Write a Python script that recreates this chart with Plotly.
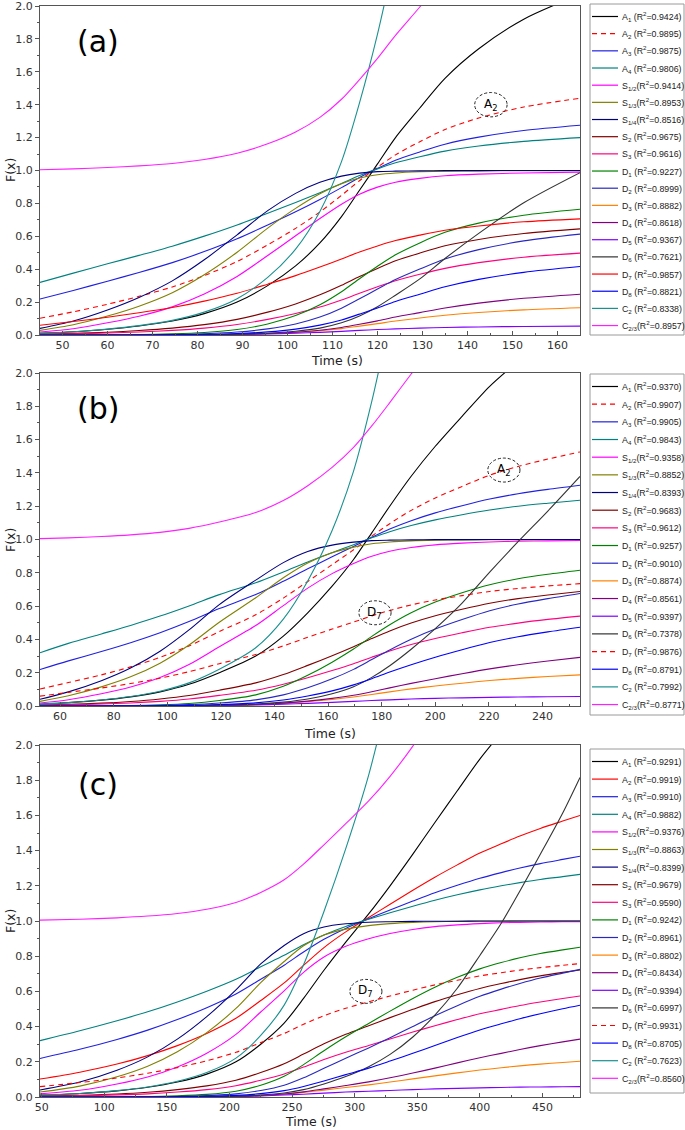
import plotly.graph_objects as go

W, H = 685, 1130
FONT = "DejaVu Sans"

# ---------------- time samples (s) ----------------
a_time = [45, 52.4, 60.0, 67.0, 74.4, 81.5, 88.8, 95.6, 101.8, 107.2, 112.0, 116.0, 120.0, 124.0, 129.4, 135.0, 142.5, 152.5, 165.0]
b_time = [52.5, 63.1, 75.4, 86.3, 97.3, 108.1, 119.4, 133.0, 143.3, 152.4, 161.5, 169.5, 176.3, 183.0, 191.0, 200.0, 210.0, 220.3, 230.9, 242.0, 254.0]
c_time = [48.7, 80.5, 110.2, 134.7, 158.4, 181.9, 205.2, 225.0, 243.7, 259.2, 275.5, 292.9, 311.2, 328.3, 346.5, 364.1, 382.0, 400.0, 417.1, 432.0, 448.3, 466.2, 480.0]

# ---------------- panel (a) values ----------------
a_A1 = [0.0105, 0.02, 0.035, 0.055, 0.085, 0.13, 0.20, 0.30, 0.42, 0.56, 0.72, 0.88, 1.04, 1.20, 1.38, 1.56, 1.74, 1.92, 2.07]
a_A2 = [0.102, 0.141, 0.187, 0.235, 0.292, 0.361, 0.447, 0.548, 0.648, 0.748, 0.849, 0.938, 1.020, 1.095, 1.175, 1.249, 1.319, 1.386, 1.439]
a_A3 = [0.219, 0.271, 0.327, 0.380, 0.440, 0.507, 0.585, 0.669, 0.749, 0.824, 0.896, 0.958, 1.013, 1.063, 1.113, 1.160, 1.203, 1.243, 1.275]
a_A4 = [0.320, 0.376, 0.433, 0.484, 0.540, 0.601, 0.669, 0.740, 0.805, 0.865, 0.921, 0.969, 1.010, 1.047, 1.084, 1.118, 1.149, 1.177, 1.200]
a_S12 = [0.018, 0.038, 0.074, 0.114, 0.171, 0.249, 0.356, 0.483, 0.603, 0.708, 0.795, 0.856, 0.899, 0.929, 0.952, 0.968, 0.978, 0.985, 0.990]
a_S13 = [0.028, 0.062, 0.115, 0.175, 0.257, 0.366, 0.503, 0.650, 0.770, 0.859, 0.920, 0.954, 0.974, 0.985, 0.992, 0.996, 0.998, 0.999, 0.999]
a_S14 = [0.040, 0.085, 0.152, 0.228, 0.329, 0.457, 0.609, 0.756, 0.861, 0.928, 0.966, 0.984, 0.993, 0.996, 0.998, 0.999, 0.999, 1.000, 1.000]
a_S2 = [0.005, 0.010, 0.017, 0.027, 0.042, 0.063, 0.095, 0.139, 0.189, 0.244, 0.302, 0.356, 0.405, 0.451, 0.498, 0.542, 0.581, 0.617, 0.645]
a_S3 = [0.004, 0.007, 0.012, 0.018, 0.028, 0.042, 0.064, 0.095, 0.131, 0.170, 0.213, 0.254, 0.293, 0.330, 0.369, 0.405, 0.440, 0.473, 0.498]
a_D1 = [0.000, 0.000, 0.001, 0.003, 0.007, 0.015, 0.033, 0.067, 0.118, 0.184, 0.263, 0.342, 0.418, 0.488, 0.560, 0.624, 0.680, 0.728, 0.764]
a_D2 = [0.000, 0.000, 0.001, 0.001, 0.003, 0.008, 0.018, 0.037, 0.067, 0.109, 0.163, 0.220, 0.279, 0.337, 0.401, 0.462, 0.519, 0.572, 0.613]
a_D3 = [0.000, 0.000, 0.000, 0.000, 0.001, 0.002, 0.004, 0.008, 0.016, 0.026, 0.039, 0.054, 0.069, 0.085, 0.103, 0.120, 0.137, 0.153, 0.166]
a_D4 = [0.000, 0.000, 0.000, 0.000, 0.001, 0.002, 0.004, 0.009, 0.017, 0.029, 0.046, 0.065, 0.086, 0.109, 0.136, 0.164, 0.194, 0.223, 0.248]
a_D5 = [0.000, 0.000, 0.000, 0.000, 0.001, 0.002, 0.003, 0.006, 0.011, 0.016, 0.022, 0.028, 0.033, 0.037, 0.042, 0.046, 0.049, 0.052, 0.054]
a_D6 = [0.000, 0.000, 0.000, 0.000, 0.001, 0.002, 0.005, 0.011, 0.023, 0.042, 0.074, 0.116, 0.172, 0.242, 0.341, 0.465, 0.618, 0.804, 0.987]
a_D7 = [0.059, 0.082, 0.108, 0.135, 0.167, 0.206, 0.254, 0.309, 0.361, 0.413, 0.462, 0.504, 0.541, 0.574, 0.607, 0.637, 0.663, 0.688, 0.706]
a_D8 = [0.000, 0.000, 0.000, 0.001, 0.002, 0.004, 0.009, 0.019, 0.036, 0.060, 0.091, 0.127, 0.164, 0.204, 0.248, 0.293, 0.338, 0.381, 0.416]
a_C2 = [0.011, 0.020, 0.036, 0.057, 0.089, 0.139, 0.221, 0.350, 0.522, 0.751, 1.054, 1.411, 1.829, 2.320]
a_C23 = [1.005, 1.010, 1.018, 1.028, 1.043, 1.067, 1.105, 1.162, 1.234, 1.323, 1.433, 1.553, 1.682, 1.822, 1.994, 2.181]

# ---------------- panel (b) values ----------------
b_A1 = [0.0105, 0.02, 0.035, 0.055, 0.085, 0.13, 0.20, 0.30, 0.42, 0.56, 0.72, 0.88, 1.04, 1.20, 1.38, 1.56, 1.74, 1.92, 2.07]
b_A2 = [0.102, 0.141, 0.187, 0.235, 0.292, 0.361, 0.447, 0.548, 0.648, 0.748, 0.849, 0.938, 1.020, 1.095, 1.175, 1.249, 1.319, 1.386, 1.439, 1.483, 1.526]
b_A3 = [0.219, 0.271, 0.327, 0.380, 0.440, 0.507, 0.585, 0.669, 0.749, 0.824, 0.896, 0.958, 1.013, 1.063, 1.113, 1.160, 1.203, 1.243, 1.275, 1.301, 1.326]
b_A4 = [0.320, 0.376, 0.433, 0.484, 0.540, 0.601, 0.669, 0.740, 0.805, 0.865, 0.921, 0.969, 1.010, 1.047, 1.084, 1.118, 1.149, 1.177, 1.200, 1.218, 1.236]
b_S12 = [0.018, 0.038, 0.074, 0.114, 0.171, 0.249, 0.356, 0.483, 0.603, 0.708, 0.795, 0.856, 0.899, 0.929, 0.952, 0.968, 0.978, 0.985, 0.990, 0.992, 0.994]
b_S13 = [0.028, 0.062, 0.115, 0.175, 0.257, 0.366, 0.503, 0.650, 0.770, 0.859, 0.920, 0.954, 0.974, 0.985, 0.992, 0.996, 0.998, 0.999, 0.999, 1.000, 1.000]
b_S14 = [0.040, 0.085, 0.152, 0.228, 0.329, 0.457, 0.609, 0.756, 0.861, 0.928, 0.966, 0.984, 0.993, 0.996, 0.998, 0.999, 0.999, 1.000, 1.000, 1.000, 1.000]
b_S2 = [0.005, 0.010, 0.017, 0.027, 0.042, 0.063, 0.095, 0.139, 0.189, 0.244, 0.302, 0.356, 0.405, 0.451, 0.498, 0.542, 0.581, 0.617, 0.645, 0.667, 0.688]
b_S3 = [0.004, 0.007, 0.012, 0.018, 0.028, 0.042, 0.064, 0.095, 0.131, 0.170, 0.213, 0.254, 0.293, 0.330, 0.369, 0.405, 0.440, 0.473, 0.498, 0.520, 0.540]
b_D1 = [0.000, 0.000, 0.001, 0.003, 0.007, 0.015, 0.033, 0.067, 0.118, 0.184, 0.263, 0.342, 0.418, 0.488, 0.560, 0.624, 0.680, 0.728, 0.764, 0.791, 0.815]
b_D2 = [0.000, 0.000, 0.001, 0.001, 0.003, 0.008, 0.018, 0.037, 0.067, 0.109, 0.163, 0.220, 0.279, 0.337, 0.401, 0.462, 0.519, 0.572, 0.613, 0.645, 0.676]
b_D3 = [0.000, 0.000, 0.000, 0.000, 0.001, 0.002, 0.004, 0.008, 0.016, 0.026, 0.039, 0.054, 0.069, 0.085, 0.103, 0.120, 0.137, 0.153, 0.166, 0.177, 0.187]
b_D4 = [0.000, 0.000, 0.000, 0.000, 0.001, 0.002, 0.004, 0.009, 0.017, 0.029, 0.046, 0.065, 0.086, 0.109, 0.136, 0.164, 0.194, 0.223, 0.248, 0.270, 0.292]
b_D5 = [0.000, 0.000, 0.000, 0.000, 0.001, 0.002, 0.003, 0.006, 0.011, 0.016, 0.022, 0.028, 0.033, 0.037, 0.042, 0.046, 0.049, 0.052, 0.054, 0.056, 0.057]
b_D6 = [0.000, 0.000, 0.000, 0.000, 0.001, 0.002, 0.005, 0.011, 0.023, 0.042, 0.074, 0.116, 0.172, 0.242, 0.341, 0.465, 0.618, 0.804, 0.987, 1.171, 1.379]
b_D7 = [0.059, 0.082, 0.108, 0.135, 0.167, 0.206, 0.254, 0.309, 0.361, 0.413, 0.462, 0.504, 0.541, 0.574, 0.607, 0.637, 0.663, 0.688, 0.706, 0.721, 0.735]
b_D8 = [0.000, 0.000, 0.000, 0.001, 0.002, 0.004, 0.009, 0.019, 0.036, 0.060, 0.091, 0.127, 0.164, 0.204, 0.248, 0.293, 0.338, 0.381, 0.416, 0.445, 0.473]
b_C2 = [0.011, 0.020, 0.036, 0.057, 0.089, 0.139, 0.221, 0.350, 0.522, 0.751, 1.054, 1.411, 1.829, 2.320]
b_C23 = [1.005, 1.010, 1.018, 1.028, 1.043, 1.067, 1.105, 1.162, 1.234, 1.323, 1.433, 1.553, 1.682, 1.822, 1.994, 2.181]

# ---------------- panel (c) values ----------------
c_A1 = [0.0105, 0.02, 0.035, 0.055, 0.085, 0.13, 0.20, 0.30, 0.42, 0.56, 0.72, 0.88, 1.04, 1.20, 1.38, 1.56, 1.74, 1.92, 2.07]
c_A2 = [0.102, 0.141, 0.187, 0.235, 0.292, 0.361, 0.447, 0.548, 0.648, 0.748, 0.849, 0.938, 1.020, 1.095, 1.175, 1.249, 1.319, 1.386, 1.439, 1.483, 1.526, 1.568, 1.600]
c_A3 = [0.219, 0.271, 0.327, 0.380, 0.440, 0.507, 0.585, 0.669, 0.749, 0.824, 0.896, 0.958, 1.013, 1.063, 1.113, 1.160, 1.203, 1.243, 1.275, 1.301, 1.326, 1.350, 1.368]
c_A4 = [0.320, 0.376, 0.433, 0.484, 0.540, 0.601, 0.669, 0.740, 0.805, 0.865, 0.921, 0.969, 1.010, 1.047, 1.084, 1.118, 1.149, 1.177, 1.200, 1.218, 1.236, 1.252, 1.265]
c_S12 = [0.018, 0.038, 0.074, 0.114, 0.171, 0.249, 0.356, 0.483, 0.603, 0.708, 0.795, 0.856, 0.899, 0.929, 0.952, 0.968, 0.978, 0.985, 0.990, 0.992, 0.994, 0.996, 0.996]
c_S13 = [0.028, 0.062, 0.115, 0.175, 0.257, 0.366, 0.503, 0.650, 0.770, 0.859, 0.920, 0.954, 0.974, 0.985, 0.992, 0.996, 0.998, 0.999, 0.999, 1.000, 1.000, 1.000, 1.000]
c_S14 = [0.040, 0.085, 0.152, 0.228, 0.329, 0.457, 0.609, 0.756, 0.861, 0.928, 0.966, 0.984, 0.993, 0.996, 0.998, 0.999, 0.999, 1.000, 1.000, 1.000, 1.000, 1.000, 1.000]
c_S2 = [0.005, 0.010, 0.017, 0.027, 0.042, 0.063, 0.095, 0.139, 0.189, 0.244, 0.302, 0.356, 0.405, 0.451, 0.498, 0.542, 0.581, 0.617, 0.645, 0.667, 0.688, 0.708, 0.722]
c_S3 = [0.004, 0.007, 0.012, 0.018, 0.028, 0.042, 0.064, 0.095, 0.131, 0.170, 0.213, 0.254, 0.293, 0.330, 0.369, 0.405, 0.440, 0.473, 0.498, 0.520, 0.540, 0.560, 0.574]
c_D1 = [0.000, 0.000, 0.001, 0.003, 0.007, 0.015, 0.033, 0.067, 0.118, 0.184, 0.263, 0.342, 0.418, 0.488, 0.560, 0.624, 0.680, 0.728, 0.764, 0.791, 0.815, 0.836, 0.851]
c_D2 = [0.000, 0.000, 0.001, 0.001, 0.003, 0.008, 0.018, 0.037, 0.067, 0.109, 0.163, 0.220, 0.279, 0.337, 0.401, 0.462, 0.519, 0.572, 0.613, 0.645, 0.676, 0.704, 0.725]
c_D3 = [0.000, 0.000, 0.000, 0.000, 0.001, 0.002, 0.004, 0.008, 0.016, 0.026, 0.039, 0.054, 0.069, 0.085, 0.103, 0.120, 0.137, 0.153, 0.166, 0.177, 0.187, 0.196, 0.203]
c_D4 = [0.000, 0.000, 0.000, 0.000, 0.001, 0.002, 0.004, 0.009, 0.017, 0.029, 0.046, 0.065, 0.086, 0.109, 0.136, 0.164, 0.194, 0.223, 0.248, 0.270, 0.292, 0.313, 0.329]
c_D5 = [0.000, 0.000, 0.000, 0.000, 0.001, 0.002, 0.003, 0.006, 0.011, 0.016, 0.022, 0.028, 0.033, 0.037, 0.042, 0.046, 0.049, 0.052, 0.054, 0.056, 0.057, 0.058, 0.059]
c_D6 = [0.000, 0.000, 0.000, 0.000, 0.001, 0.002, 0.005, 0.011, 0.023, 0.042, 0.074, 0.116, 0.172, 0.242, 0.341, 0.465, 0.618, 0.804, 0.987, 1.171, 1.379, 1.614, 1.816]
c_D7 = [0.059, 0.082, 0.108, 0.135, 0.167, 0.206, 0.254, 0.309, 0.361, 0.413, 0.462, 0.504, 0.541, 0.574, 0.607, 0.637, 0.663, 0.688, 0.706, 0.721, 0.735, 0.748, 0.758]
c_D8 = [0.000, 0.000, 0.000, 0.001, 0.002, 0.004, 0.009, 0.019, 0.036, 0.060, 0.091, 0.127, 0.164, 0.204, 0.248, 0.293, 0.338, 0.381, 0.416, 0.445, 0.473, 0.501, 0.521]
c_C2 = [0.011, 0.020, 0.036, 0.057, 0.089, 0.139, 0.221, 0.350, 0.522, 0.751, 1.054, 1.411, 1.829, 2.320]
c_C23 = [1.005, 1.010, 1.018, 1.028, 1.043, 1.067, 1.105, 1.162, 1.234, 1.323, 1.433, 1.553, 1.682, 1.822, 1.994, 2.181]

# ---------------- legend text ----------------
model_names = ["A<sub>1</sub> ", "A<sub>2</sub> ", "A<sub>3</sub> ", "A<sub>4</sub> ",
               "S<sub>1/2</sub>", "S<sub>1/3</sub>", "S<sub>1/4</sub>", "S<sub>2</sub> ", "S<sub>3</sub> ",
               "D<sub>1</sub> ", "D<sub>2</sub> ", "D<sub>3</sub> ", "D<sub>4</sub> ", "D<sub>5</sub> ",
               "D<sub>6</sub> ", "D<sub>7</sub> ", "D<sub>8</sub> ", "C<sub>2</sub> ", "C<sub>2/3</sub>"]
a_r2 = ["0.9424", "0.9895", "0.9875", "0.9806", "0.9414", "0.8953", "0.8516", "0.9675", "0.9616", "0.9227",
        "0.8999", "0.8882", "0.8618", "0.9367", "0.7621", "0.9857", "0.8821", "0.8338", "0.8957"]
b_r2 = ["0.9370", "0.9907", "0.9905", "0.9843", "0.9358", "0.8852", "0.8393", "0.9683", "0.9612", "0.9257",
        "0.9010", "0.8874", "0.8561", "0.9397", "0.7378", "0.9876", "0.8791", "0.7992", "0.8771"]
c_r2 = ["0.9291", "0.9919", "0.9910", "0.9882", "0.9376", "0.8863", "0.8399", "0.9679", "0.9590", "0.9242",
        "0.8961", "0.8802", "0.8434", "0.9394", "0.6997", "0.9931", "0.8705", "0.7623", "0.8560"]

colors = ["#000000", "#ff0000", "#2020e0", "#008080", "#ff00ff", "#808000", "#000080", "#800000", "#ff0080",
          "#008000", "#2828c0", "#ff8000", "#800080", "#8000ff", "#333333", "#ff0000", "#0000ff", "#1a9090", "#ff20ff"]

DASH = "5px,4px"

panels = [
    dict(ax="", time=a_time,
         series=[a_A1, a_A2, a_A3, a_A4, a_S12, a_S13, a_S14, a_S2, a_S3, a_D1, a_D2, a_D3, a_D4, a_D5, a_D6, a_D7, a_D8, a_C2, a_C23],
         r2=a_r2, dashed={1}, xr=[45, 165], dtick=10, minor=5, top=6, bot=335,
         label="(a)", label_y=41, xt=(337, 360), yt=170,
         leg=dict(top=4, bot=335, y0=16.5, dy=17.17),
         circles=[("A<sub>2</sub>", 145.2, 1.40, 3.6, 0.074)]),
    dict(ax="2", time=b_time,
         series=[b_A1, b_A2, b_A3, b_A4, b_S12, b_S13, b_S14, b_S2, b_S3, b_D1, b_D2, b_D3, b_D4, b_D5, b_D6, b_D7, b_D8, b_C2, b_C23],
         r2=b_r2, dashed={1, 15}, xr=[52.5, 254], dtick=20, minor=10, top=373, bot=706,
         label="(b)", label_y=409, xt=(330, 733), yt=540,
         leg=dict(top=374, bot=715, y0=386.5, dy=17.67),
         circles=[("A<sub>2</sub>", 225.6, 1.417, 6.0, 0.072), ("D<sub>7</sub>", 177.5, 0.56, 6.0, 0.072)]),
    dict(ax="3", time=c_time,
         series=[c_A1, c_A2, c_A3, c_A4, c_S12, c_S13, c_S14, c_S2, c_S3, c_D1, c_D2, c_D3, c_D4, c_D5, c_D6, c_D7, c_D8, c_C2, c_C23],
         r2=c_r2, dashed={15}, xr=[48.7, 480], dtick=50, minor=25, top=745, bot=1097,
         label="(c)", label_y=784, xt=(311, 1121), yt=921,
         leg=dict(top=749, bot=1093, y0=761.5, dy=17.6),
         circles=[("D<sub>7</sub>", 309.0, 0.60, 12.8, 0.068)]),
]


def px(xp):
    """page pixel x -> paper fraction"""
    return xp / W


def py(yp):
    """page pixel y -> paper fraction"""
    return 1 - yp / H


fig = go.Figure()
layout = dict(width=W, height=H, margin=dict(l=0, r=0, t=0, b=0),
              paper_bgcolor="white", plot_bgcolor="white", showlegend=False,
              font=dict(family=FONT, size=11, color="#333333"))
shapes = []
annotations = []

for p in panels:
    xa = "x" + p["ax"]
    ya = "y" + p["ax"]
    for i, vals in enumerate(p["series"]):
        fig.add_trace(go.Scatter(
            x=p["time"][:len(vals)], y=vals, mode="lines", xaxis=xa, yaxis=ya,
            line=dict(color=colors[i], width=1.1, shape="spline", smoothing=0.8,
                      dash=DASH if i in p["dashed"] else "solid"),
            hoverinfo="skip", showlegend=False))

    layout["xaxis" + p["ax"]] = dict(
        domain=[px(40), px(580)], anchor=ya, range=p["xr"], dtick=p["dtick"], tick0=0,
        showline=True, mirror=True, linecolor="#555555", linewidth=1,
        ticks="inside", ticklen=4, tickcolor="#555555", showgrid=False, zeroline=False,
        minor=dict(ticks="inside", ticklen=2, dtick=p["minor"], tick0=0, tickcolor="#555555", showgrid=False),
        tickfont=dict(family=FONT, size=11, color="#333333"), automargin=False,
        ticklabeloverflow="allow")
    layout["yaxis" + p["ax"]] = dict(
        domain=[py(p["bot"]), py(p["top"])], anchor=xa, range=[0, 2], dtick=0.2, tick0=0,
        tickformat=".1f", showline=True, mirror=True, linecolor="#555555", linewidth=1,
        ticks="outside", ticklen=4, tickcolor="#555555", showgrid=False, zeroline=False,
        minor=dict(ticks="outside", ticklen=2, dtick=0.1, tickcolor="#555555", showgrid=False),
        tickfont=dict(family=FONT, size=11, color="#333333"), automargin=False,
        ticklabeloverflow="allow")

    # panel label
    annotations.append(dict(text=p["label"], x=px(98), y=py(p["label_y"]), xref="paper", yref="paper",
                            showarrow=False, font=dict(family=FONT, size=30, color="#000000"),
                            xanchor="center", yanchor="middle"))
    # axis titles
    annotations.append(dict(text="Time (s)", x=px(p["xt"][0]), y=py(p["xt"][1]), xref="paper", yref="paper",
                            showarrow=False, font=dict(family=FONT, size=12.5, color="#222222"),
                            xanchor="center", yanchor="middle"))
    annotations.append(dict(text="F(x)", x=px(10), y=py(p["yt"]), xref="paper", yref="paper",
                            showarrow=False, textangle=-90, font=dict(family=FONT, size=12.5, color="#222222"),
                            xanchor="center", yanchor="middle"))

    # dashed ellipse call-outs
    for txt, cx, cy, rx, ry in p["circles"]:
        shapes.append(dict(type="circle", xref=xa, yref=ya, x0=cx - rx, x1=cx + rx, y0=cy - ry, y1=cy + ry,
                           line=dict(color="#222222", width=1, dash="3px,2px")))
        annotations.append(dict(text=txt, x=cx, y=cy, xref=xa, yref=ya, showarrow=False,
                                font=dict(family=FONT, size=12, color="#000000"),
                                xanchor="center", yanchor="middle"))

    # legend box drawn by hand
    lg = p["leg"]
    shapes.append(dict(type="rect", xref="paper", yref="paper", x0=px(590), x1=px(684),
                       y0=py(lg["bot"]), y1=py(lg["top"]), line=dict(color="#9a9a9a", width=1),
                       fillcolor="rgba(0,0,0,0)"))
    for i in range(len(model_names)):
        yy = lg["y0"] + lg["dy"] * i
        shapes.append(dict(type="line", xref="paper", yref="paper", x0=px(592), x1=px(618),
                           y0=py(yy), y1=py(yy),
                           line=dict(color=colors[i], width=1.2, dash=DASH if i in p["dashed"] else "solid")))
        annotations.append(dict(text=model_names[i] + "(R<sup>2</sup>=" + p["r2"][i] + ")",
                                x=px(620), y=py(yy), xref="paper", yref="paper", showarrow=False,
                                xanchor="left", yanchor="middle",
                                font=dict(family="Liberation Sans", size=8.8, color="#222222")))

layout["shapes"] = shapes
layout["annotations"] = annotations
fig.update_layout(**layout)
# remove the browser's default 8px body margin so the figure fills the window exactly
fig.write_html("out.html", config={"displayModeBar": False, "staticPlot": True},
               post_script="document.body.style.margin='0';document.body.style.overflow='hidden';")
